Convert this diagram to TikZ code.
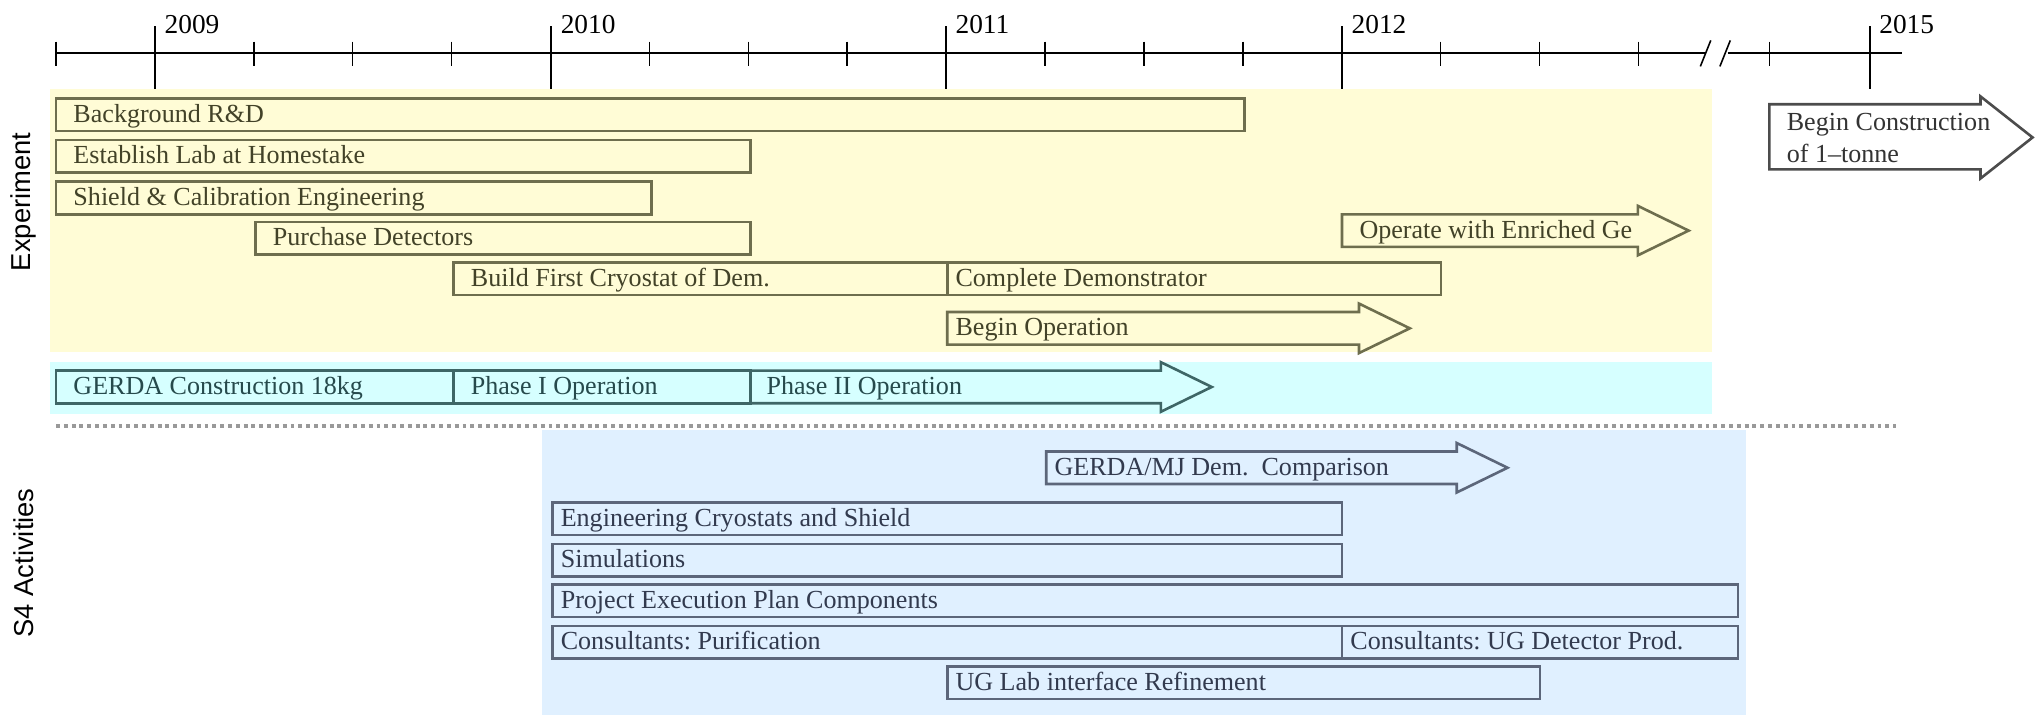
\documentclass[tikz,border=0pt]{standalone}
\usepackage{fontspec}
\setmainfont{Liberation Serif}
\newfontfamily\sidefont{Liberation Sans}
\usepackage{tikz}
\frenchspacing
\definecolor{expfill}{RGB}{255,252,214}
\definecolor{expline}{RGB}{110,110,78}
\definecolor{exptext}{RGB}{66,66,40}
\definecolor{gerdafill}{RGB}{214,255,255}
\definecolor{gerdaline}{RGB}{62,102,102}
\definecolor{gerdatext}{RGB}{38,74,76}
\definecolor{sfourfill}{RGB}{224,240,255}
\definecolor{sfourline}{RGB}{92,102,122}
\definecolor{sfourtext}{RGB}{50,58,78}
\tikzset{
    x=0.5pt, y=-0.5pt, % one unit is one pixel of the sketch, y runs down
    axis/.style={black, line width=0.8pt}, % the time line and its ticks
    year/.style={inner sep=0pt, font=\fontsize{10.5}{12}\selectfont},
    side/.style={rotate=90, font=\sidefont\fontsize{10.5}{12}\selectfont},
    exp line/.style={draw=expline, fill=expfill, line width=1pt},
    gerda line/.style={draw=gerdaline, fill=gerdafill, line width=1pt},
    sfour line/.style={draw=sfourline, fill=sfourfill, line width=1pt},
    exp box/.style={exp line, minimum height=12.5pt, inner sep=0pt, outer sep=0pt},
    gerda box/.style={gerda line, minimum height=12.5pt, inner sep=0pt, outer sep=0pt},
    sfour box/.style={sfour line, minimum height=12.5pt, inner sep=0pt, outer sep=0pt},
    exp text/.style={text=exptext, inner sep=0pt, text height=1.55ex, text depth=.3ex},
    gerda text/.style={text=gerdatext, inner sep=0pt, text height=1.55ex, text depth=.3ex},
    sfour text/.style={text=sfourtext, inner sep=0pt, text height=1.55ex, text depth=.3ex},
    }
\newcommand{\taskbox}[7]{% name, group, start, end, row, text pad, text
  \node[#2 box, minimum width=#4*0.5pt-#3*0.5pt, anchor=west] (#1) at (#3,#5) {};
  \node[#2 text, anchor=west, xshift=#6*0.5pt] (#1-label) at (#1.west) {#7};
}
\newcommand{\taskarrow}[7]{% name, group, start, tip, row, text pad, text
  \draw[#2 line] (#3,#5-12.5) -- (#4-39,#5-12.5) -- (#4-39,#5-19) -- (#4,#5)
    -- (#4-39,#5+19) -- (#4-39,#5+12.5) -- (#3,#5+12.5) -- cycle;
  \node[#2 text, anchor=west] (#1) at (#3+#6,#5) {#7};
}

\begin{document}
\begin{tikzpicture}
\useasboundingbox (0,0) rectangle (1568,549);

% background bands
\fill[expfill] (38,68) rectangle (1314,270);
\fill[gerdafill] (38,278) rectangle (1314,318);
\fill[sfourfill] (416,330) rectangle (1340,549);
\draw[gray!80, line width=1.2pt, dash pattern=on 1.5pt off 1.5pt] (43,327) -- (1455,327);

% time line
\draw[axis] (43,41) -- (1309,41);
\draw[axis] (1326,41) -- (1460,41);
\draw[axis, line width=0.6pt] (1305,51) -- (1313,31);
\draw[axis, line width=0.6pt] (1320,51) -- (1328,31);
\foreach \q in {0,...,16}
    \draw[axis, line width=0.6pt] ({43+75.9*\q},32) -- ({43+75.9*\q},51);
\draw[axis, line width=0.6pt] (1358,32) -- (1358,51);
\foreach \x/\yr in {119/2009, 423/2010, 726/2011, 1030/2012, 1435/2015} {
    \draw[axis] (\x,20) -- (\x,68);
    \node[year, anchor=base west] (y\yr) at (\x+7,26) {\yr};
}

\node[side] (experiment) at (18,155) {Experiment};
\node[side] (sfour) at (18,432) {S4 Activities};

% experiment
\taskbox{bkg}{exp}{43}{955}{88}{13}{Background R\&D}
\taskbox{lab}{exp}{43}{576}{120}{13}{Establish Lab at Homestake}
\taskbox{shield}{exp}{43}{500}{152}{13}{Shield \& Calibration Engineering}
\taskbox{purchase}{exp}{196}{576}{183}{13}{Purchase Detectors}
\taskbox{build}{exp}{348}{727}{214}{13}{Build First Cryostat of Dem.}
\taskbox{complete}{exp}{727}{1106}{214}{6}{Complete Demonstrator}
\taskarrow{enriched}{exp}{1030}{1296}{177}{13}{Operate with Enriched Ge}
\taskarrow{beginop}{exp}{727}{1082}{252}{6}{Begin Operation}

% GERDA
\taskbox{gerda}{gerda}{43}{348}{297}{13}{GERDA Construction 18kg}
\taskbox{phaseone}{gerda}{348}{576}{297}{13}{Phase I Operation}
\taskarrow{phasetwo}{gerda}{576}{930}{297}{12}{Phase II Operation}

% S4
\taskarrow{compare}{sfour}{803}{1157}{359}{6}{GERDA/MJ Dem.\ \ Comparison}
\taskbox{engcryo}{sfour}{424}{1030}{398}{6}{Engineering Cryostats and Shield}
\taskbox{sim}{sfour}{424}{1030}{430}{6}{Simulations}
\taskbox{pep}{sfour}{424}{1334}{461}{6}{Project Execution Plan Components}
\taskbox{purif}{sfour}{424}{1030}{493}{6}{Consultants: Purification}
\taskbox{ugdet}{sfour}{1030}{1334}{493}{6}{Consultants: UG Detector Prod.}
\taskbox{uglab}{sfour}{727}{1182}{524}{6}{UG Lab interface Refinement}

% 1-tonne
\draw[black!70, fill=white, line width=1pt] (1358,80) -- (1520,80) -- (1520,74) -- (1560,105.5)
    -- (1520,137) -- (1520,130) -- (1358,130) -- cycle;
\node[anchor=west, align=left, inner sep=0pt, text=black!80] (tonne) at (1371,106)
    {Begin Construction\\of 1\textendash tonne};
\end{tikzpicture}
\end{document}
